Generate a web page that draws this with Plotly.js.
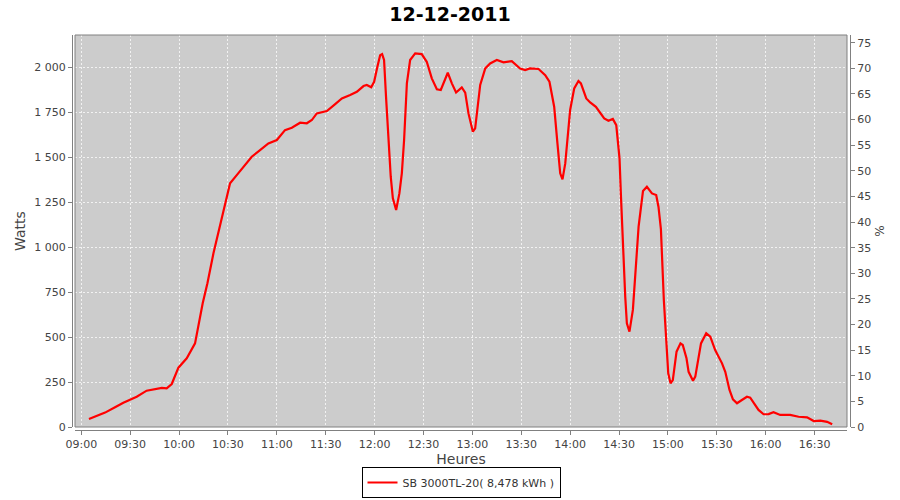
<!DOCTYPE html>
<html>
<head>
<meta charset="utf-8">
<script src="https://cdn.plot.ly/plotly-3.0.1.min.js"></script>
<style>html,body{margin:0;padding:0;background:#fff}#chart{width:900px;height:500px}</style>
</head>
<body>
<div id="chart"></div>
<script>
var chartTitle = "12-12-2011";
var dateStr = "2011-12-12";
var seriesName = "SB 3000TL-20( 8,478 kWh )";
var xTitle = "Heures";
var yTitle = "Watts";
var y2Title = "%";

var times = [
"09:04:42","09:14:36","09:20:42","09:25:48","09:34:00","09:40:06","09:49:24","09:52:24","09:55:30","09:59:36",
"10:04:42","10:09:48","10:14:30","10:17:24","10:21:06","10:24:42","10:27:36","10:29:18","10:31:18","10:35:24",
"10:39:30","10:44:36","10:49:42","10:54:48","11:00:00","11:05:00","11:09:12","11:14:18","11:18:24","11:21:30",
"11:24:30","11:30:42","11:35:48","11:39:54","11:45:00","11:49:06","11:53:12","11:55:12","11:57:54","11:59:42",
"12:01:42","12:03:24","12:04:36","12:05:48","12:07:00","12:08:30","12:09:54","12:11:12","12:13:12","12:15:12",
"12:16:42","12:18:06","12:19:48","12:21:48","12:24:54","12:28:54","12:32:00","12:35:06","12:38:12","12:40:36",
"12:44:54","12:47:24","12:50:00","12:53:30","12:55:36","12:57:36","13:00:18","13:01:42","13:04:48","13:07:54",
"13:10:54","13:15:00","13:19:06","13:24:12","13:29:18","13:32:24","13:35:24","13:40:36","13:44:42","13:47:18",
"13:50:12","13:52:12","13:53:54","13:55:18","13:57:00","14:00:00","14:02:30","14:05:06","14:06:36","14:09:54",
"14:12:18","14:15:48","14:18:24","14:20:54","14:23:30","14:26:12","14:28:18","14:30:18","14:31:12","14:32:24",
"14:33:48","14:34:48","14:36:24","14:38:30","14:40:00","14:42:00","14:44:42","14:47:06","14:50:12","14:52:48",
"14:54:12","14:55:42","14:57:30","14:59:12","15:00:12","15:01:36","15:03:00","15:05:18","15:07:42","15:09:06",
"15:11:24","15:12:42","15:15:24","15:16:48","15:18:48","15:20:18","15:23:30","15:26:00","15:29:00","15:33:12",
"15:35:12","15:37:48","15:39:54","15:42:24","15:45:24","15:48:30","15:50:30","15:53:00","15:55:36","15:58:42",
"16:01:48","16:04:48","16:08:54","16:15:00","16:20:12","16:25:24","16:29:30","16:33:36","16:37:42","16:40:48"
];
var watts = [
44,80,110,135,168,202,218,215,239,330,
382,465,688,799,966,1105,1207,1270,1355,1401,
1447,1503,1540,1577,1596,1651,1664,1692,1689,1707,
1744,1757,1796,1827,1846,1864,1896,1902,1889,1920,
2003,2068,2074,2041,1837,1596,1392,1272,1207,1299,
1411,1596,1911,2041,2078,2074,2031,1939,1878,1874,
1970,1911,1860,1889,1860,1744,1642,1661,1902,1994,
2022,2041,2028,2035,1994,1985,1994,1991,1957,1920,
1781,1577,1411,1377,1466,1763,1883,1924,1911,1827,
1805,1781,1748,1716,1703,1713,1679,1494,1280,984,
725,577,530,651,873,1114,1312,1336,1299,1290,
1225,1100,706,428,299,243,261,419,465,456,
382,307,257,280,391,465,521,502,428,354,
307,206,154,132,150,168,163,132,95,71,
72,82,67,67,57,54,33,35,29,15
];
// percentage series: no values recorded in the reference (axis only)
var percent = times.map(function(){ return null; });

var xRange = ["08:56:08", "16:49:54"];
var xTick0 = "09:00:00";
var wattsRange = [0, 2180];
var pctRange = [0, 76.5];

var xs = times.map(function(t){ return dateStr + " " + t; });

var W = 900, H = 500;
var mL = 72, mR = 50, mT = 35, mB = 70;
var pw = W - mL - mR, ph = H - mT - mB;
var off = 3;

var tickFont = {family: "DejaVu Sans", size: 11, color: "#444444"};
var titleFont = {family: "DejaVu Sans", size: 14, color: "#444444"};
var gridCol = "rgba(255,255,255,0.75)";

var data = [{
  type: "scatter", mode: "lines",
  x: xs, y: watts,
  name: seriesName,
  line: {color: "#ff0000", width: 2.2},
  xaxis: "x", yaxis: "y"
}, {
  type: "scatter", mode: "lines",
  x: xs, y: percent,
  name: "%", showlegend: false, hoverinfo: "skip",
  line: {color: "#0000ff", width: 1},
  xaxis: "x", yaxis: "y2"
}];

var layout = {
  width: W, height: H,
  margin: {l: mL, r: mR, t: mT, b: mB, pad: 0, autoexpand: false},
  paper_bgcolor: "#ffffff",
  plot_bgcolor: "#cccccc",
  separators: ", ",
  title: {text: chartTitle, x: 0.5, xanchor: "center", y: 1 - 14/H, yanchor: "middle",
          font: {family: "DejaVu Sans", size: 19, color: "#000000", weight: "bold"}},
  showlegend: true,
  legend: {orientation: "h", x: 0.5, xanchor: "center", y: -(467-430)/ph, yanchor: "top",
           bordercolor: "#000000", borderwidth: 1, bgcolor: "#ffffff",
           font: {family: "DejaVu Sans", size: 11, color: "#333333"},
           itemwidth: 30},
  xaxis: {
    type: "date",
    domain: [off/pw, (pw-off)/pw],
    range: [dateStr + " " + xRange[0], dateStr + " " + xRange[1]],
    anchor: "free", position: 0,
    tick0: dateStr + " " + xTick0, dtick: 1800000, tickformat: "%H:%M",
    ticks: "outside", ticklen: 4, tickcolor: "#808080",
    showline: true, linecolor: "#808080", linewidth: 1,
    showgrid: true, gridcolor: gridCol, griddash: "2px,2px", gridwidth: 1,
    zeroline: false,
    tickfont: tickFont,
    title: {text: xTitle, font: titleFont, standoff: 1},
    automargin: false
  },
  yaxis: {
    domain: [off/ph, 1],
    range: wattsRange,
    anchor: "free", position: 0,
    dtick: 250, tickformat: ",d",
    ticks: "outside", ticklen: 4, tickcolor: "#808080",
    showline: true, linecolor: "#808080", linewidth: 1,
    showgrid: true, gridcolor: gridCol, griddash: "2px,2px", gridwidth: 1,
    zeroline: false,
    tickfont: tickFont,
    title: {text: yTitle, font: titleFont, standoff: 4},
    automargin: false
  },
  yaxis2: {
    domain: [off/ph, 1],
    range: pctRange,
    overlaying: "y", side: "right",
    anchor: "free", position: 1,
    dtick: 5,
    ticks: "outside", ticklen: 4, tickcolor: "#808080",
    showline: true, linecolor: "#808080", linewidth: 1,
    showgrid: false, zeroline: false,
    tickfont: {family: "DejaVu Sans", size: 11, color: "#444444"},
    title: {text: y2Title, font: {family: "DejaVu Sans", size: 12, color: "#444444"}, standoff: 5},
    automargin: false
  },
  shapes: [{
    type: "rect", xref: "x domain", yref: "y domain", x0: 0, x1: 1, y0: 0, y1: 1,
    line: {color: "#808080", width: 1}, fillcolor: "rgba(0,0,0,0)", layer: "above"
  }]
};

Plotly.newPlot("chart", data, layout, {displayModeBar: false, staticPlot: true});
</script>
</body>
</html>
